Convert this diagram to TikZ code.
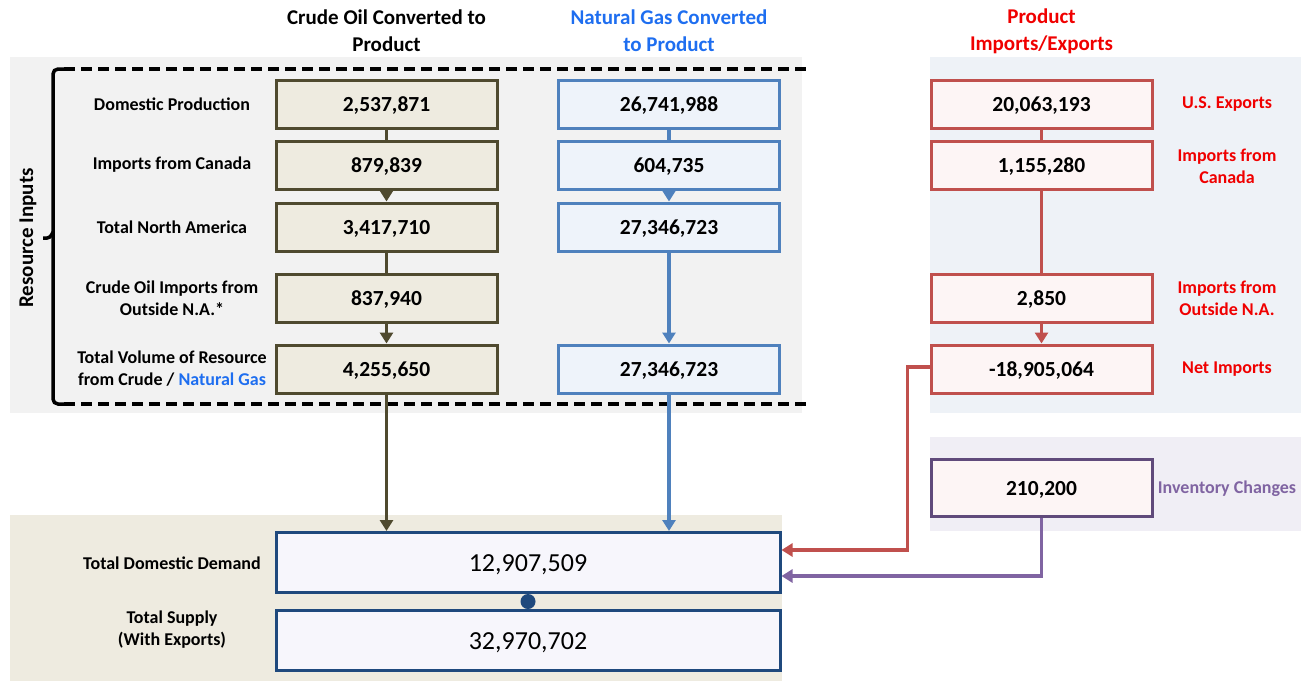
\documentclass[tikz,border=0pt]{standalone}
\usepackage{fontspec}
\setmainfont{Carlito}
\usetikzlibrary{arrows.meta,calc}
\definecolor{oilline}{RGB}{79,74,47}
\definecolor{oilfill}{RGB}{238,235,224}
\definecolor{gasline}{RGB}{79,129,189}
\definecolor{gasfill}{RGB}{238,243,250}
\definecolor{prodline}{RGB}{192,80,77}
\definecolor{prodfill}{RGB}{253,245,245}
\definecolor{invline}{RGB}{96,74,123}
\definecolor{invflow}{RGB}{128,100,162}
\definecolor{demline}{RGB}{31,73,125}
\definecolor{demfill}{RGB}{247,246,252}
\definecolor{panelgrey}{RGB}{242,242,242}
\definecolor{panelblue}{RGB}{238,242,247}
\definecolor{panelpurple}{RGB}{240,238,245}
\definecolor{headblue}{RGB}{30,110,240}
\definecolor{headred}{RGB}{240,0,0}
\tikzset{
  every node/.style={font=\bfseries\fontsize{18}{22}\selectfont, align=center, inner sep=0pt},
  valbox/.style={draw, line width=3pt, minimum width=221pt, minimum height=48pt,
    text height=14pt, text depth=0pt, font=\bfseries\fontsize{21.5}{26}\selectfont},
  oilbox/.style={valbox, draw=oilline, fill=oilfill},
  gasbox/.style={valbox, draw=gasline, fill=gasfill},
  prodbox/.style={valbox, draw=prodline, fill=prodfill},
  totbox/.style={valbox, draw=demline, fill=demfill, minimum width=504pt, minimum height=60pt,
    text height=17pt, font=\fontsize{26}{30}\selectfont},
  link/.style={line width=3.5pt},
  flow/.style={link, -{Triangle[width=13pt,length=11pt]}},
  head/.style={font=\bfseries\fontsize{21}{27}\selectfont},
}

\begin{document}
\begin{tikzpicture}[x=1pt,y=-1pt]
  \useasboundingbox (0,0) rectangle (1301,681);
  \pgfmathsetmacro{\xc}{386.5};
  \pgfmathsetmacro{\xg}{669};
  \pgfmathsetmacro{\xp}{1041.5};
  % panels
  \fill[panelgrey] (10,57) rectangle (802,413);
  \fill[panelblue] (930,57) rectangle (1301,413);
  \fill[panelpurple] (930,437) rectangle (1301,531);
  \fill[oilfill] (10,515) rectangle (782,681);
  % headers
  \node[head] (hc) at (\xc,31) {Crude Oil Converted to\\Product};
  \node[head, text=headblue] (hg) at (\xg,31) {Natural Gas Converted\\to Product};
  \node[head, text=headred] (hp) at (\xp,31) {Product\\Imports/Exports};
  % bracket
  \draw[line width=3.5pt, dash pattern=on 11pt off 6pt] (64,69) -- (807,69);
  \draw[line width=3.5pt, dash pattern=on 11pt off 6pt] (64,404) -- (807,404);
  \draw[line width=3.5pt, rounded corners=5pt] (64,69) -- (53,69) -- (53,404) -- (64,404);
  \draw[line width=3.5pt, rounded corners=3pt] (53,232) -- (50,238) -- (43,238);
  \node[rotate=90, font=\bfseries\fontsize{21}{25}\selectfont] (ri) at (28,238) {Resource Inputs};
  % row labels
  \node (l1) at (172,104) {Domestic Production};
  \node (l2) at (172,165) {Imports from Canada};
  \node (l3) at (172,227) {Total North America};
  \node (l4) at (172,298) {Crude Oil Imports from\\Outside N.A.*};
  \node (l5) at (172,369) {Total Volume of Resource\\from Crude / \textcolor{headblue}{Natural Gas}};
  % crude oil column
  \node[oilbox] (c1) at (\xc,104) {2,537,871};
  \node[oilbox] (c2) at (\xc,165) {879,839};
  \node[oilbox] (c3) at (\xc,227) {3,417,710};
  \node[oilbox] (c4) at (\xc,298) {837,940};
  \node[oilbox] (c5) at (\xc,369) {4,255,650};
  % natural gas column
  \node[gasbox] (g1) at (\xg,104) {26,741,988};
  \node[gasbox] (g2) at (\xg,165) {604,735};
  \node[gasbox] (g3) at (\xg,227) {27,346,723};
  \node[gasbox] (g5) at (\xg,369) {27,346,723};
  % product column
  \node[prodbox] (p1) at (\xp,104) {20,063,193};
  \node[prodbox] (p2) at (\xp,165) {1,155,280};
  \node[prodbox] (p4) at (\xp,298) {2,850};
  \node[prodbox] (p5) at (\xp,369) {-18,905,064};
  \node[prodbox, draw=invline, minimum height=57pt] (inv) at (\xp,488) {210,200};
  \node[text=headred] (r1) at (1227,104) {U.S. Exports};
  \node[text=headred] (r2) at (1227,166) {Imports from\\Canada};
  \node[text=headred] (r4) at (1227,298) {Imports from\\Outside N.A.};
  \node[text=headred] (r5) at (1227,369) {Net Imports};
  \node[text=invflow] (r6) at (1227,489) {Inventory Changes};
  % totals
  \node[totbox] (dem) at (528,562.5) {12,907,509};
  \node[totbox] (sup) at (528,640.5) {32,970,702};
  \node[circle, fill=demline, minimum size=15pt] (dot) at ($(dem.south)!0.5!(sup.north)$) {};
  \node (ld) at (172,563) {Total Domestic Demand};
  \node (ls) at (172,630) {Total Supply\\(With Exports)};
  % connectors
  \draw[link, oilline] (c1) -- (c2);
  \draw[flow, oilline] (c2) -- (c3);
  \draw[link, oilline] (c3) -- (c4);
  \draw[flow, oilline] (c4) -- (c5);
  \draw[flow, oilline] (c5.south) -- (c5.south |- dem.north);
  \draw[link, gasline] (g1) -- (g2);
  \draw[flow, gasline] (g2) -- (g3);
  \draw[flow, gasline] (g3) -- (g5);
  \draw[flow, gasline] (g5.south) -- (g5.south |- dem.north);
  \draw[link, prodline] (p1) -- (p2);
  \draw[link, prodline] (p2) -- (p4);
  \draw[flow, prodline] (p4) -- (p5);
  \draw[flow, prodline] ([yshift=2pt]p5.west) -- ++(-22,0) |- ([yshift=12.5pt]dem.east);
  \draw[flow, invflow] (inv.south) |- ([yshift=-13.5pt]dem.east);
\end{tikzpicture}
\end{document}
